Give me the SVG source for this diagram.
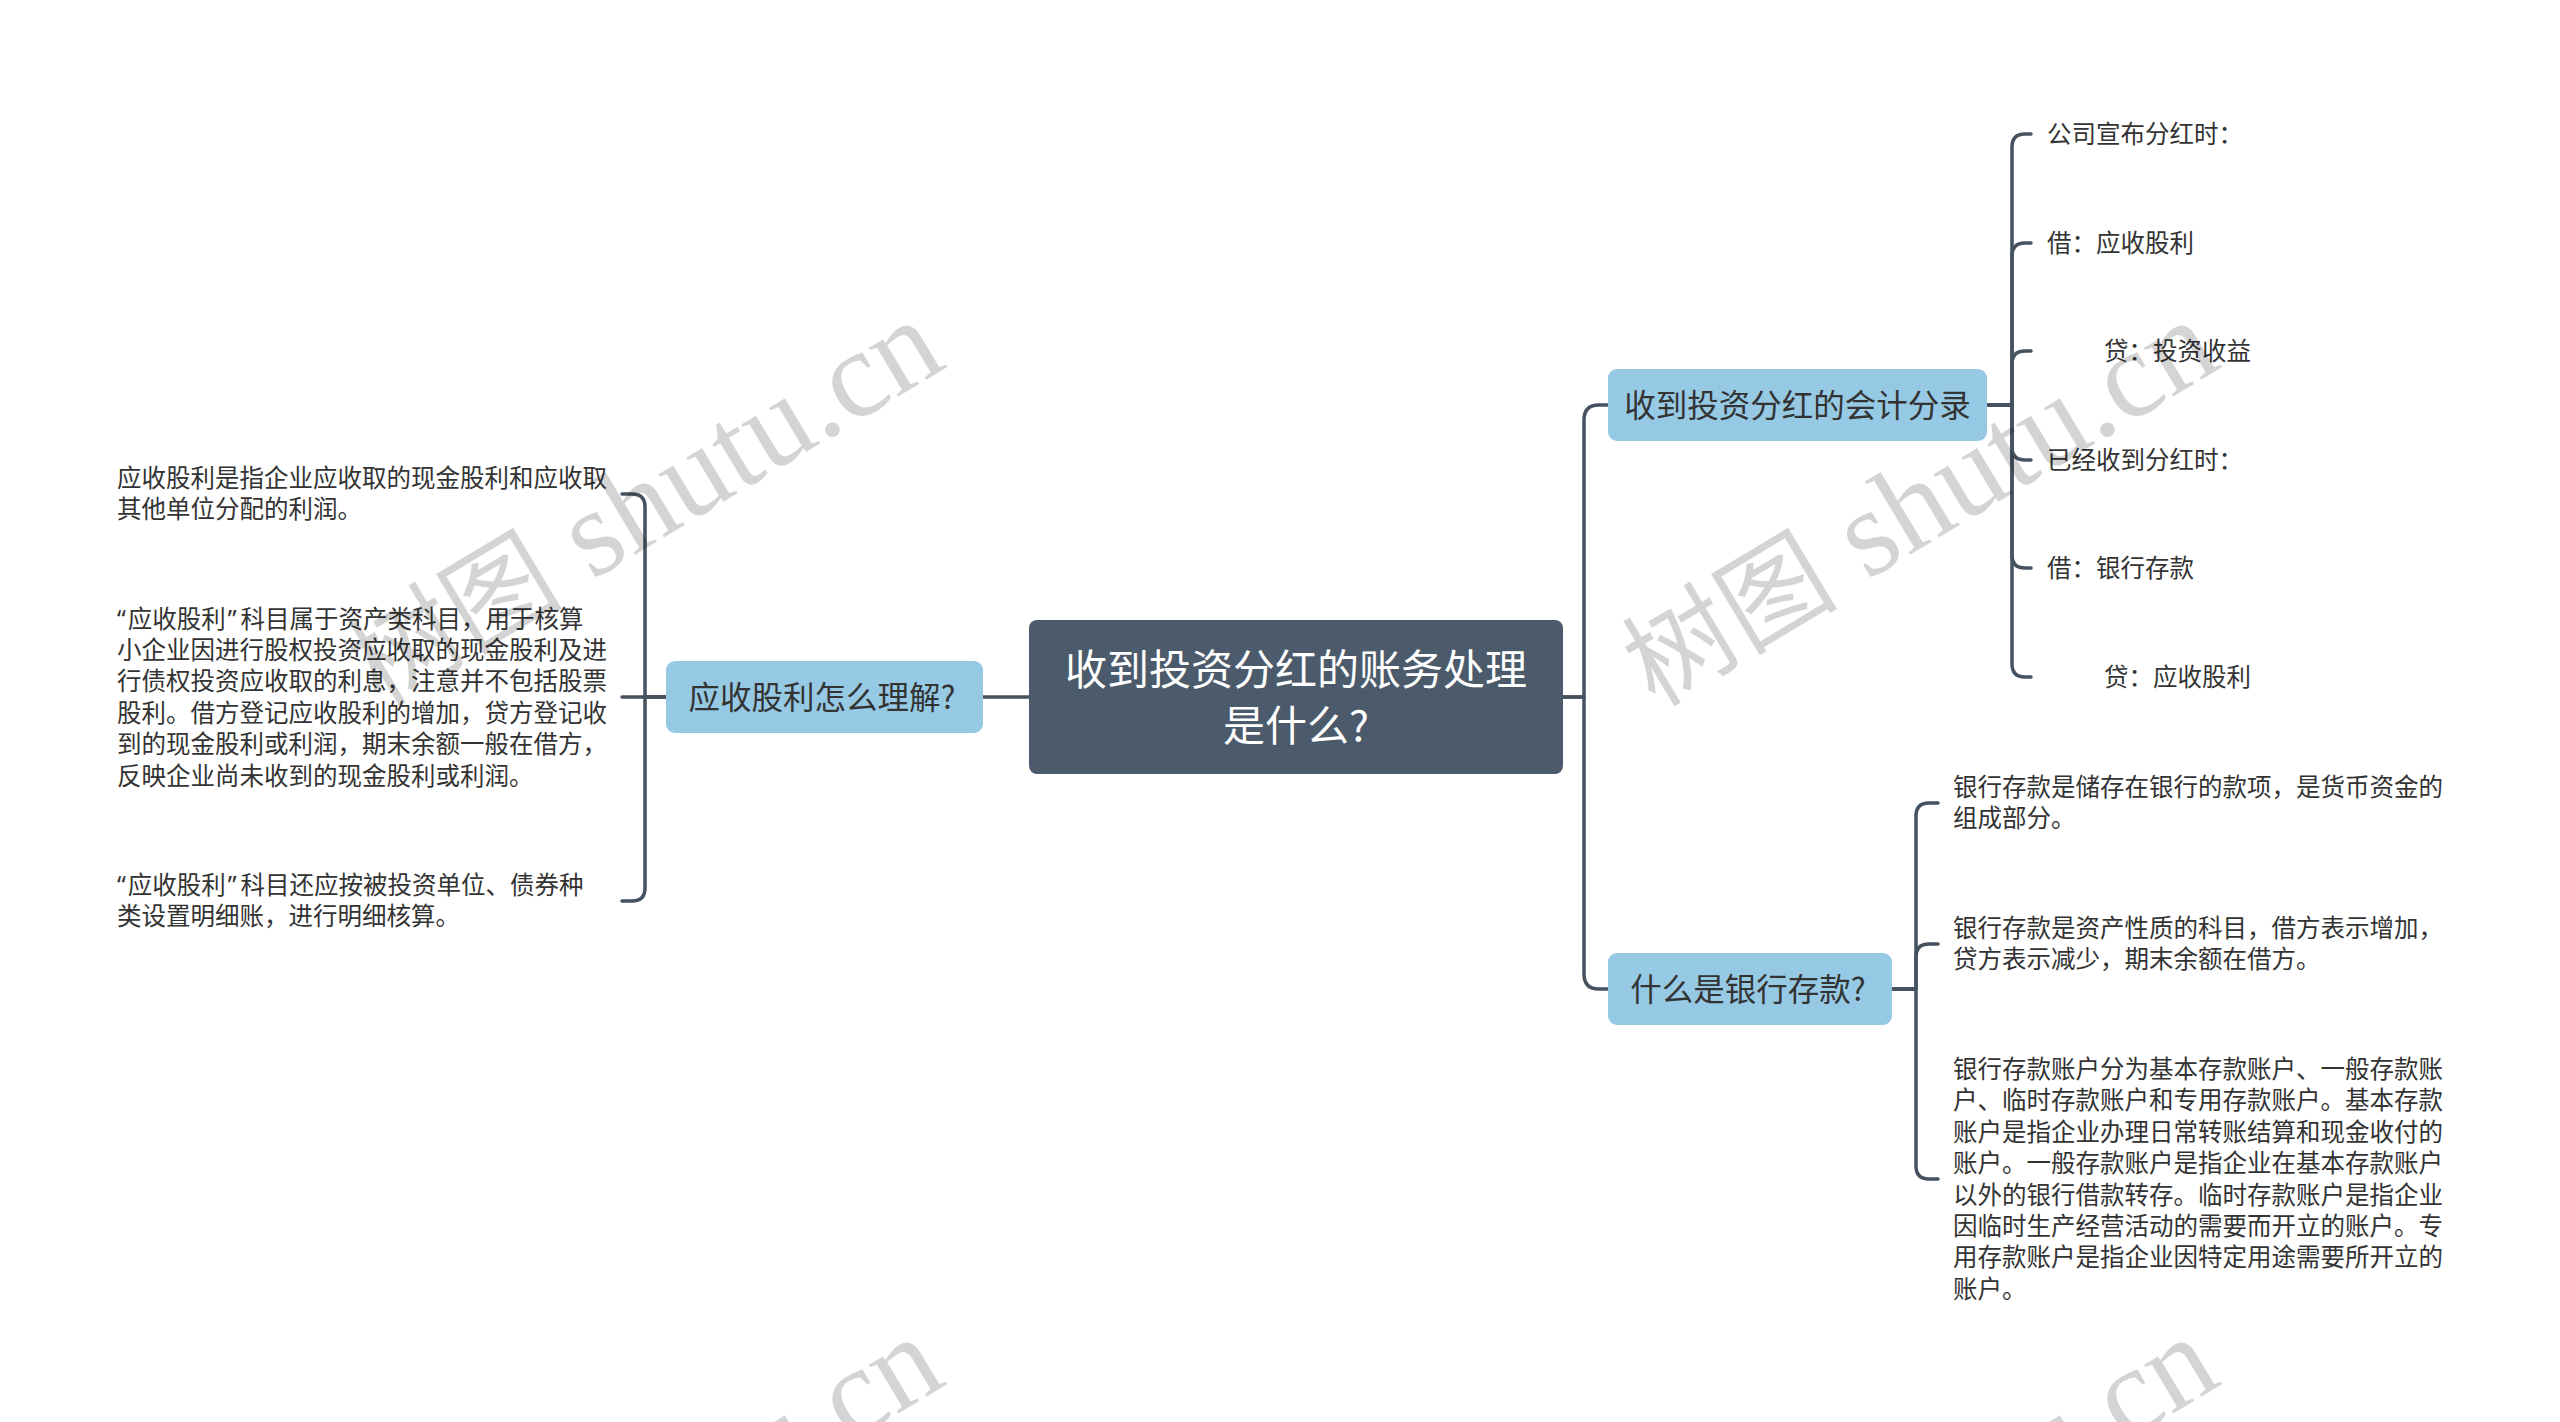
<svg xmlns="http://www.w3.org/2000/svg" width="2560" height="1422" viewBox="0 0 2560 1422">
<style>
.wm{fill:#000;fill-opacity:0.17}
.wmc{font-family:"Noto Sans CJK SC",sans-serif;font-size:108px}
.wml{font-family:"Liberation Serif",serif;font-size:124px}
.conn{fill:none;stroke:#45525f;stroke-width:3.5;stroke-linecap:round;stroke-linejoin:round}
.root{fill:#4b5b6b}
.branch{fill:#96cae4}
.rt{font-family:"Noto Sans CJK SC",sans-serif;font-size:42px;fill:#ffffff;text-anchor:middle}
.bt{font-family:"Noto Sans CJK SC",sans-serif;font-size:31.5px;fill:#333333;text-anchor:middle}
.lt{font-family:"Noto Sans CJK SC",sans-serif;font-size:24.5px;fill:#333333}
.q{font-family:"Noto Sans",sans-serif}
</style>
<rect width="2560" height="1422" fill="#ffffff"/>
<g id="connectors">
<path class="conn" d="M1563 697 H1584 V420 Q1584 405 1599 405 H1608"/>
<path class="conn" d="M1563 697 H1584 V974 Q1584 989 1599 989 H1608"/>
<path class="conn" d="M1029 697 H983"/>
<path class="conn" d="M666 697 H645 V507 Q645 494 632 494 H622"/>
<path class="conn" d="M666 697 H622"/>
<path class="conn" d="M666 697 H645 V888 Q645 901 632 901 H622"/>
<path class="conn" d="M1987 405 H2012 V147 Q2012 134 2025 134 H2031"/>
<path class="conn" d="M1987 405 H2012 V256 Q2012 243 2025 243 H2031"/>
<path class="conn" d="M1987 405 H2012 V364 Q2012 351 2025 351 H2031"/>
<path class="conn" d="M1987 405 H2012 V447 Q2012 460 2025 460 H2031"/>
<path class="conn" d="M1987 405 H2012 V555 Q2012 568 2025 568 H2031"/>
<path class="conn" d="M1987 405 H2012 V664 Q2012 677 2025 677 H2031"/>
<path class="conn" d="M1892 989 H1916 V816 Q1916 803 1929 803 H1938"/>
<path class="conn" d="M1892 989 H1916 V957 Q1916 944 1929 944 H1938"/>
<path class="conn" d="M1892 989 H1916 V1166 Q1916 1179 1929 1179 H1938"/>
</g>
<g id="root">
<rect class="root" x="1029" y="620" width="534" height="154" rx="8"/>
<text class="rt" x="1296" y="685">收到投资分红的账务处理</text>
<text class="rt" x="1296" y="741">是什么?</text>
</g>
<g id="b-left">
<rect class="branch" x="666" y="661" width="317" height="72" rx="9"/>
<text class="bt" x="822" y="709">应收股利怎么理解?</text>
</g>
<g id="b-right1">
<rect class="branch" x="1608" y="369" width="379" height="72" rx="9"/>
<text class="bt" x="1797.5" y="417">收到投资分红的会计分录</text>
</g>
<g id="b-right2">
<rect class="branch" x="1608" y="953" width="284" height="72" rx="9"/>
<text class="bt" x="1748" y="1001">什么是银行存款?</text>
</g>
<g id="l1"><text class="lt" x="117" y="487">应收股利是指企业应收取的现金股利和应收取</text><text class="lt" x="117" y="518">其他单位分配的利润。</text></g>
<g id="l2">
<text class="lt" x="117" y="628"><tspan class="q">“</tspan><tspan dx="2">应收股利</tspan><tspan class="q" dx="2">”</tspan><tspan dx="4">科目属于资产类科目，用于核算</tspan></text>
<text class="lt" x="117" y="659">小企业因进行股权投资应收取的现金股利及进</text>
<text class="lt" x="117" y="690">行债权投资应收取的利息，注意并不包括股票</text>
<text class="lt" x="117" y="722">股利。借方登记应收股利的增加，贷方登记收</text>
<text class="lt" x="117" y="753">到的现金股利或利润，期末余额一般在借方，</text>
<text class="lt" x="117" y="785">反映企业尚未收到的现金股利或利润。</text>
</g>
<g id="l3"><text class="lt" x="117" y="894"><tspan class="q">“</tspan><tspan dx="2">应收股利</tspan><tspan class="q" dx="2">”</tspan><tspan dx="4">科目还应按被投资单位、债券种</tspan></text><text class="lt" x="117" y="925">类设置明细账，进行明细核算。</text></g>
<g id="r1"><text class="lt" x="2047" y="143">公司宣布分红时：</text></g>
<g id="r2"><text class="lt" x="2047" y="252">借：应收股利</text></g>
<g id="r3"><text class="lt" x="2104" y="360">贷：投资收益</text></g>
<g id="r4"><text class="lt" x="2047" y="469">已经收到分红时：</text></g>
<g id="r5"><text class="lt" x="2047" y="577">借：银行存款</text></g>
<g id="r6"><text class="lt" x="2104" y="686">贷：应收股利</text></g>
<g id="s1"><text class="lt" x="1953" y="796">银行存款是储存在银行的款项，是货币资金的</text><text class="lt" x="1953" y="827">组成部分。</text></g>
<g id="s2"><text class="lt" x="1953" y="937">银行存款是资产性质的科目，借方表示增加，</text><text class="lt" x="1953" y="968">贷方表示减少，期末余额在借方。</text></g>
<g id="s3">
<text class="lt" x="1953" y="1078">银行存款账户分为基本存款账户、一般存款账</text>
<text class="lt" x="1953" y="1109">户、临时存款账户和专用存款账户。基本存款</text>
<text class="lt" x="1953" y="1141">账户是指企业办理日常转账结算和现金收付的</text>
<text class="lt" x="1953" y="1172">账户。一般存款账户是指企业在基本存款账户</text>
<text class="lt" x="1953" y="1204">以外的银行借款转存。临时存款账户是指企业</text>
<text class="lt" x="1953" y="1235">因临时生产经营活动的需要而开立的账户。专</text>
<text class="lt" x="1953" y="1266">用存款账户是指企业因特定用途需要所开立的</text>
<text class="lt" x="1953" y="1298">账户。</text>
</g>
<g id="watermark" class="wm">
<text transform="translate(380,708) rotate(-31)"><tspan class="wmc">树图</tspan><tspan class="wml"> shutu.cn</tspan></text>
<text transform="translate(1655,708) rotate(-31)"><tspan class="wmc">树图</tspan><tspan class="wml"> shutu.cn</tspan></text>
<text transform="translate(380,1725) rotate(-31)"><tspan class="wmc">树图</tspan><tspan class="wml"> shutu.cn</tspan></text>
<text transform="translate(1655,1725) rotate(-31)"><tspan class="wmc">树图</tspan><tspan class="wml"> shutu.cn</tspan></text>
</g>
</svg>
